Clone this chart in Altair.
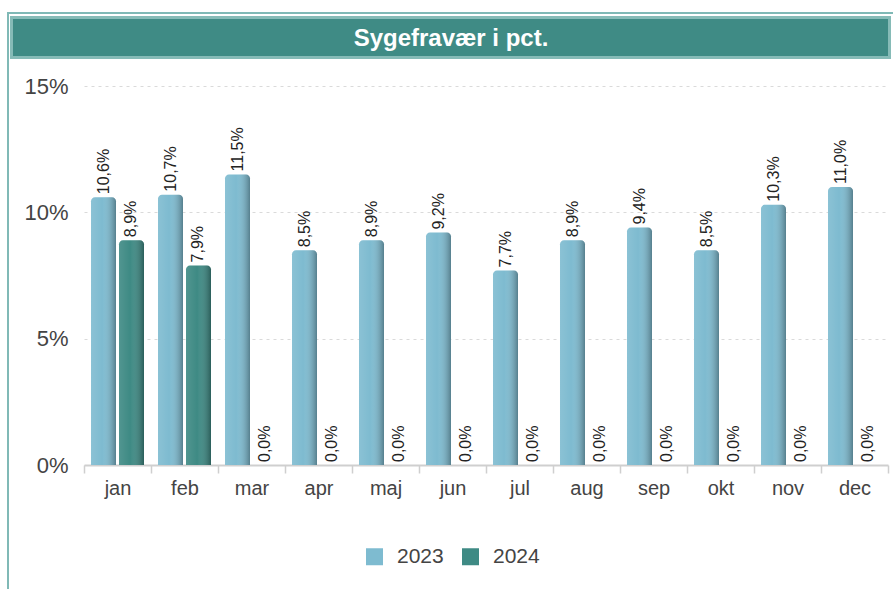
import altair as alt
import pandas as pd

months = ["jan", "feb", "mar", "apr", "maj", "jun", "jul", "aug", "sep", "okt", "nov", "dec"]
years = ["2023", "2024"]
v2023 = [10.6, 10.7, 11.5, 8.5, 8.9, 9.2, 7.7, 8.9, 9.4, 8.5, 10.3, 11.0]
v2024 = [8.9, 7.9, 0, 0, 0, 0, 0, 0, 0, 0, 0, 0]
y_ticks = [0, 5, 10, 15]
title_text = "Sygefravær i pct."

rows = []
for m, a, b in zip(months, v2023, v2024):
    for yr, v in (("2023", a), ("2024", b)):
        rows.append({"month": m, "year": yr, "value": v,
                     "label": f"{v:.1f}".replace(".", ",") + "%"})
df = pd.DataFrame(rows)
tdf = pd.DataFrame({"t": [title_text]})

W, H = 804, 379
FONT = "Liberation Sans"

x = alt.X("month:N", sort=months,
          scale=alt.Scale(paddingInner=0, paddingOuter=0),
          axis=alt.Axis(title=None, labelAngle=0, labelFontSize=20, labelColor="#444",
                        labelFont=FONT, domainColor="#cfcfcf", domainWidth=2,
                        tickColor="#cfcfcf", tickSize=8, tickWidth=1.5, tickBand="extent",
                        labelPadding=5, grid=False))
xo = alt.XOffset("year:N", sort=years, scale=alt.Scale(paddingInner=0.107, paddingOuter=0.25))
y = alt.Y("value:Q", stack=None,
          scale=alt.Scale(domain=[0, 15], nice=False, zero=True),
          axis=alt.Axis(title=None, values=y_ticks, labelExpr="datum.value + '%'",
                        labelFontSize=22, labelColor="#444", labelFont=FONT, ticks=False,
                        domain=False, labelPadding=16, grid=True, gridColor="#dadada",
                        gridDash=[3, 4], gridWidth=1))

bars = alt.Chart(df).mark_bar(cornerRadiusTopLeft=4, cornerRadiusTopRight=4).encode(
    x=x, xOffset=xo, y=y,
    color=alt.Color("year:N", sort=years,
                    scale=alt.Scale(domain=years, range=["#7ebbd0", "#3e8a84"]),
                    legend=alt.Legend(title=None, orient="none", legendX=280, legendY=460,
                                      direction="horizontal", symbolType="square",
                                      symbolSize=289, symbolStrokeWidth=0,
                                      labelFontSize=21, labelFont=FONT, labelColor="#444",
                                      labelOffset=12, columnPadding=16)))

shade = alt.Chart(df).mark_bar(
    cornerRadiusTopLeft=4, cornerRadiusTopRight=4,
    fill=alt.LinearGradient(gradient="linear", x1=0, x2=1, y1=0, y2=0, stops=[
        alt.GradientStop(color="rgba(255,255,255,0.10)", offset=0),
        alt.GradientStop(color="rgba(255,255,255,0)", offset=0.45),
        alt.GradientStop(color="rgba(0,0,0,0.32)", offset=1)])
).encode(x=x, xOffset=xo, y=y)

labels = alt.Chart(df).mark_text(angle=270, align="left", baseline="middle", dx=3,
                                 fontSize=16, font=FONT, color="#222").encode(
    x=x, xOffset=xo, y=y, text="label:N")

border_left = alt.Chart(tdf).mark_rule(color="#80b9b6", strokeWidth=2).encode(
    x=alt.value(-76), y=alt.value(-74), y2=alt.value(503))
border_top = alt.Chart(tdf).mark_rule(color="#80b9b6", strokeWidth=2).encode(
    x=alt.value(-77), x2=alt.value(809), y=alt.value(-73))
title_bar = alt.Chart(tdf).mark_rect(fill="#3f8b85", stroke="#86bbb7", strokeWidth=3).encode(
    x=alt.value(-72.5), x2=alt.value(805.5), y=alt.value(-68.5), y2=alt.value(-28.5))
title_txt = alt.Chart(tdf).mark_text(font=FONT, fontSize=24, fontWeight="bold", color="white",
                                     align="center", baseline="middle").encode(
    x=alt.value(367), y=alt.value(-47), text="t:N")

chart = alt.layer(border_left, border_top, title_bar, title_txt, bars, shade, labels).properties(
    width=W, height=H,
    padding={"left": 84, "top": 86, "right": 5, "bottom": 124},
    autosize=alt.AutoSizeParams(type="none"),
).configure_view(stroke=None)

chart.save("out.html", embed_options={"renderer": "svg", "actions": False})
